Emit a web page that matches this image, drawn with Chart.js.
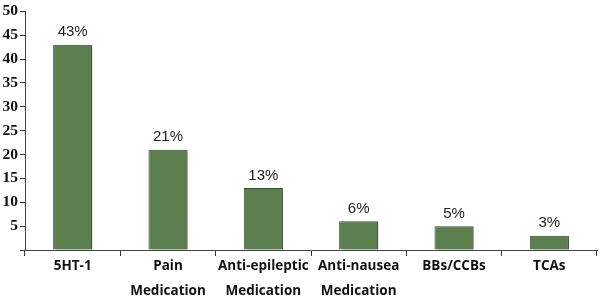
<!DOCTYPE html>
<html>
<head>
<meta charset="utf-8">
<script src="https://cdn.jsdelivr.net/npm/chart.js@4/dist/chart.umd.min.js"></script>
<style>
  html, body { margin: 0; padding: 0; background: #fff; }
  #wrap { width: 600px; height: 297px; position: relative; }
</style>
</head>
<body>
<div id="wrap"><canvas id="chartCanvas"></canvas></div>
<script>
// chart data
const categories = [['5HT-1'], ['Pain', 'Medication'], ['Anti-epileptic', 'Medication'], ['Anti-nausea', 'Medication'], ['BBs/CCBs'], ['TCAs']];
const percentValues = [43, 21, 13, 6, 5, 3];
const yTicks = [0, 5, 10, 15, 20, 25, 30, 35, 40, 45, 50];

// bar shadow on the right side
const shadowPlugin = {
    id: 'barShadow',
    beforeDatasetDraw(chart) {
        const ctx = chart.ctx;
        ctx.save();
        ctx.shadowColor = 'rgba(0,0,0,0.35)';
        ctx.shadowOffsetX = 3;
        ctx.shadowOffsetY = 1;
        ctx.shadowBlur = 2;
    },
    afterDatasetDraw(chart) {
        chart.ctx.restore();
    }
};

// value labels above bars
const valueLabels = {
    id: 'valueLabels',
    afterDatasetsDraw(chart) {
        const ctx = chart.ctx;
        const meta = chart.getDatasetMeta(0);
        ctx.save();
        ctx.font = '15px "Liberation Sans", Arial, sans-serif';
        ctx.fillStyle = '#222';
        ctx.textAlign = 'center';
        ctx.textBaseline = 'bottom';
        meta.data.forEach((bar, i) => {
            ctx.fillText(percentValues[i] + '%', bar.x, bar.y - 5);
        });
        ctx.restore();
    }
};

const ctx = document.getElementById('chartCanvas').getContext('2d');
window.chart = new Chart(ctx, {
    type: 'bar',
    data: {
        labels: categories,
        datasets: [{
            data: percentValues,
            backgroundColor: '#5b7f4f',
            borderColor: '#3a5232',
            borderWidth: 1,
            barPercentage: 0.41,
            categoryPercentage: 1
        }]
    },
    options: {
        responsive: true,
        maintainAspectRatio: false,
        animation: false,
        events: [],
        layout: { padding: { top: 10, right: 3, left: 0, bottom: 0 } },
        plugins: { legend: { display: false }, tooltip: { enabled: false } },
        scales: {
            x: {
                offset: true,
                grid: { display: true, drawOnChartArea: false, offset: true, tickLength: 6, color: '#333' },
                border: { color: '#444', width: 1 },
                ticks: {
                    color: '#111',
                    font: { family: '"Open Sans", "DejaVu Sans", sans-serif', size: 13.5, weight: 'bold', lineHeight: 1.85 },
                    padding: -2,
                    maxRotation: 0,
                    autoSkip: false
                },
                afterFit(axis) { axis.height = 47; }
            },
            y: {
                min: 0,
                max: 50,
                afterBuildTicks(axis) { axis.ticks = yTicks.map(v => ({ value: v })); },
                grid: { display: true, drawOnChartArea: false, tickLength: 5, color: '#333' },
                border: { color: '#444', width: 1 },
                ticks: {
                    color: '#111',
                    padding: 2,
                    font: { family: '"Liberation Serif", "Times New Roman", serif', size: 15.5, weight: 'bold' },
                    callback: (v) => v === 0 ? '' : v
                },
                afterFit(axis) { axis.width = 25; }
            }
        }
    },
    plugins: [shadowPlugin, valueLabels]
});
</script>
</body>
</html>
